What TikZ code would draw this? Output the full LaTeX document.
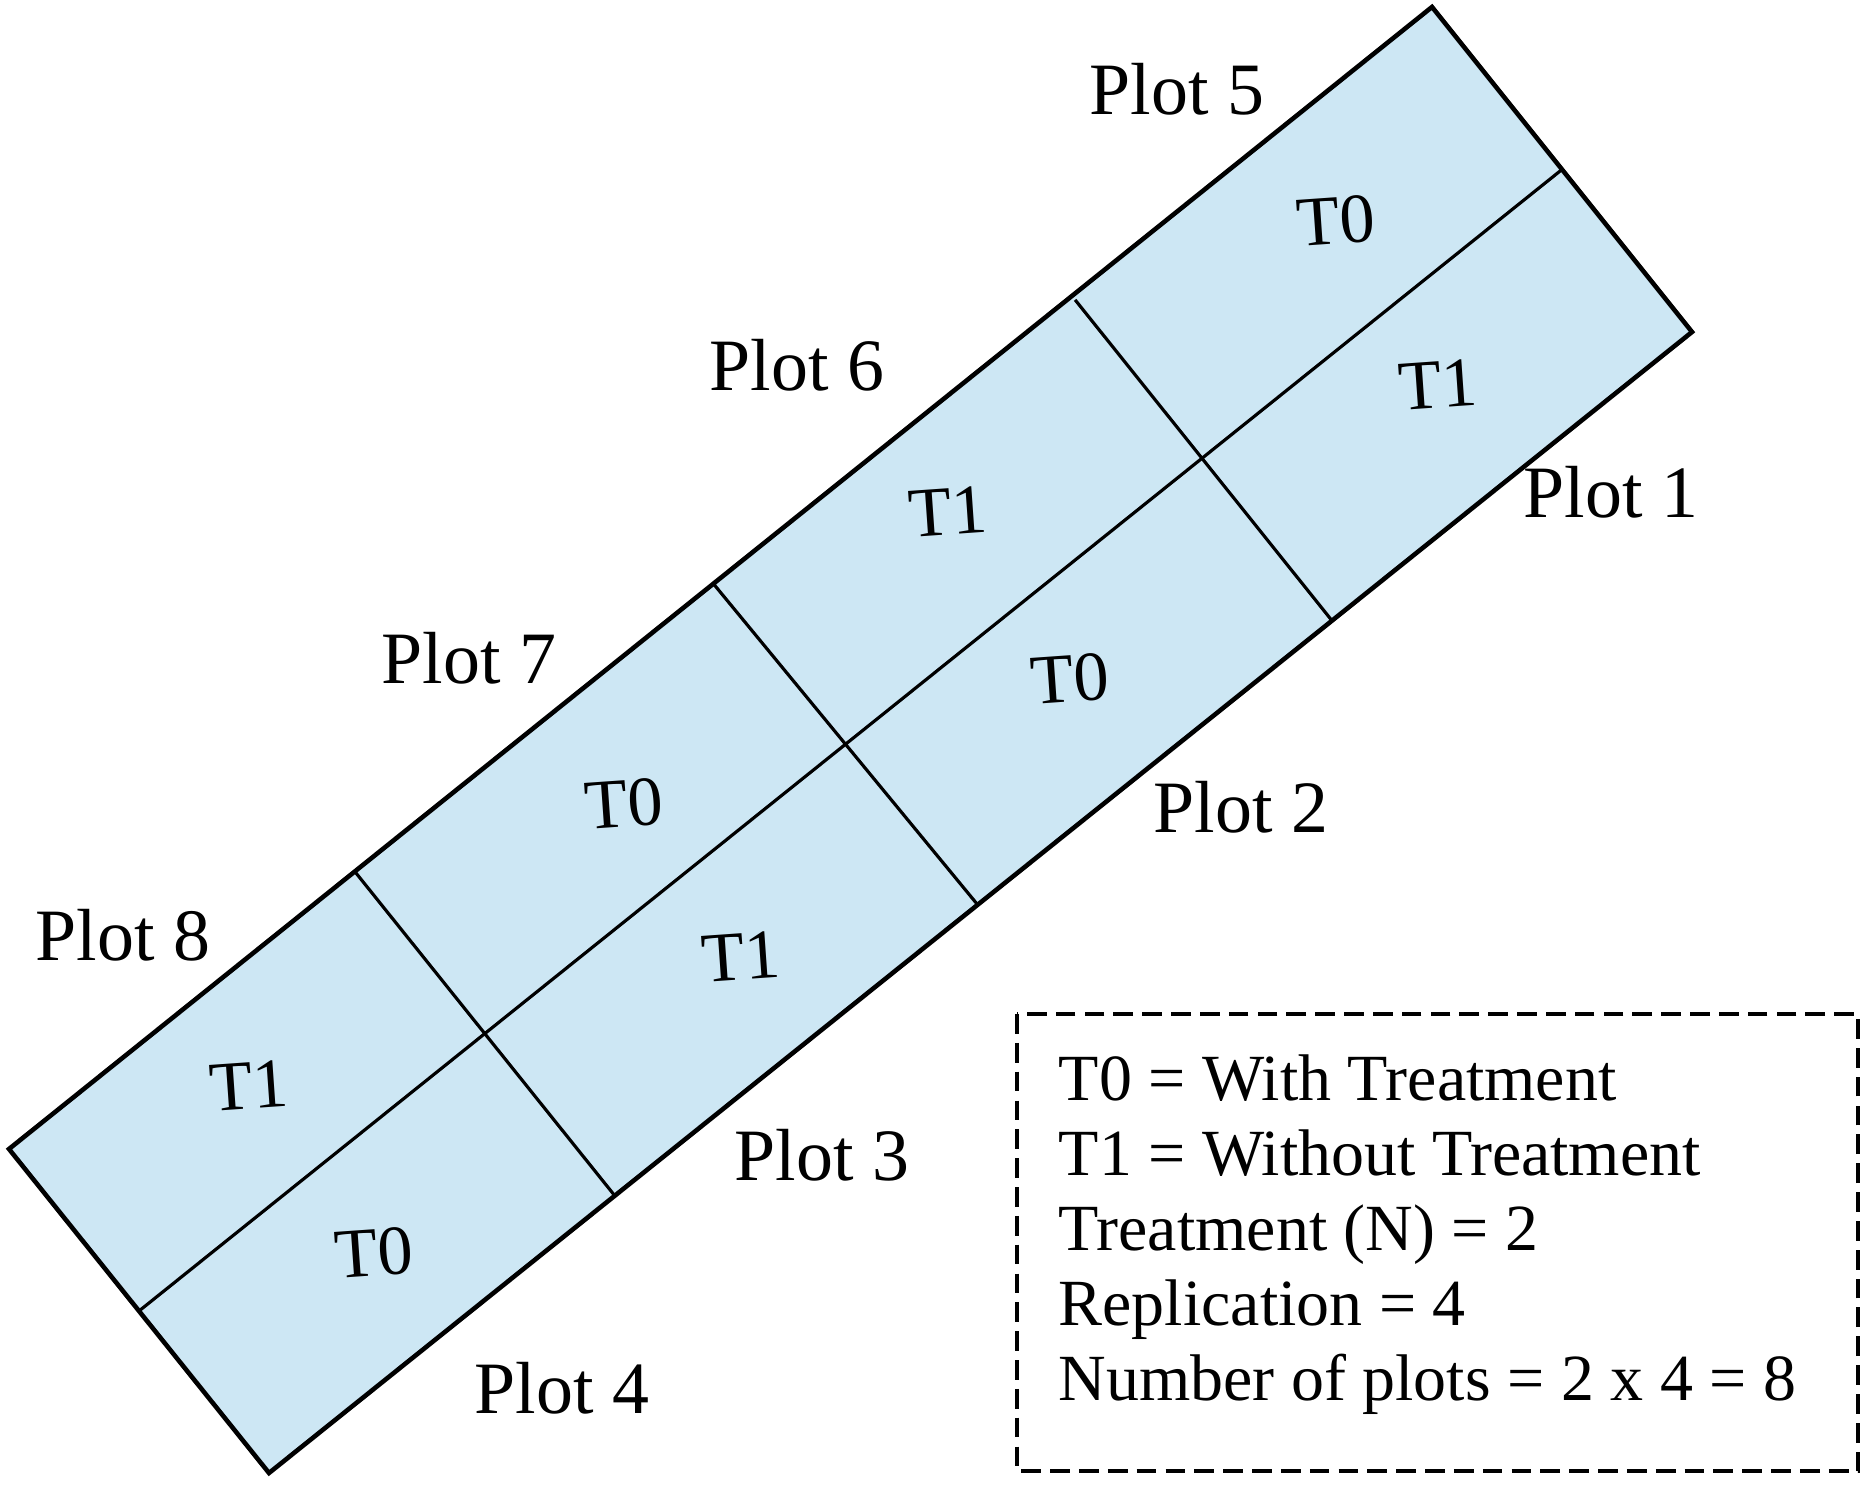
\documentclass[tikz,border=0pt]{standalone}
\usepackage{fontspec}
\setmainfont{Liberation Serif}
\usetikzlibrary{calc}
\begin{document}
\begin{tikzpicture}[x=0.01cm,y=-0.01cm,
  border/.style={line width=1.3pt, line join=miter},
  innerline/.style={line width=0.9pt},
  plotlabel/.style={anchor=base, inner sep=0pt, font=\fontsize{21}{24}\selectfont},
  treat/.style={anchor=center, inner sep=0pt, rotate=4, font=\fontsize{20}{24}\selectfont},
  legendline/.style={anchor=base west, inner sep=0pt, font=\fontsize{18.75}{22}\selectfont},
  legendbox/.style={line width=1pt, dash pattern=on 5.6pt off 2.6pt}]
\definecolor{plotfill}{RGB}{205,231,244}
\useasboundingbox (0,0) rectangle (1870,1486);
\fill[white] (0,0) rectangle (1870,1486);
% field corners
\coordinate (L) at (9,1149);
\coordinate (T) at (1432,7);
\coordinate (R) at (1692,332);
\coordinate (B) at (269,1473);
\fill[plotfill] (L) -- (T) -- (R) -- (B) -- cycle;
% middle line
\coordinate (m1) at ($(L)!0.5!(B)$);
\coordinate (m2) at ($(T)!0.5!(R)$);
\draw[innerline] (m1) -- (m2);
% cross lines
\coordinate (c1a) at ($(L)!0.747!(T)$);
\coordinate (c1b) at ($(B)!0.747!(R)$);
\coordinate (c1s) at ($(c1a)!0.012!(c1b)$);
\draw[innerline] (c1s) -- (c1b);
\coordinate (c2a) at ($(L)!0.495!(T)$);
\coordinate (c2b) at ($(B)!0.498!(R)$);
\draw[innerline] (c2a) -- (c2b);
\coordinate (c3a) at ($(L)!0.243!(T)$);
\coordinate (c3b) at ($(B)!0.243!(R)$);
\draw[innerline] (c3a) -- (c3b);
% outer border
\draw[border] (L) -- (T) -- (R) -- (B) -- cycle;
% treatment labels
\node[treat] (t5) at (1336,221) {T0};
\node[treat] (t1) at (1438,385) {T1};
\node[treat] (t6) at (948,512) {T1};
\node[treat] (t2) at (1070,679) {T0};
\node[treat] (t7) at (624,804) {T0};
\node[treat] (t3) at (741,957) {T1};
\node[treat] (t8) at (249,1086) {T1};
\node[treat] (t4) at (374,1253) {T0};
% plot labels
\node[plotlabel] (p5) at (1177,115) {Plot 5};
\node[plotlabel] (p6) at (797,391) {Plot 6};
\node[plotlabel] (p7) at (469,684) {Plot 7};
\node[plotlabel] (p8) at (123,960) {Plot 8};
\node[plotlabel] (p1) at (1611,518) {Plot 1};
\node[plotlabel] (p2) at (1241,833) {Plot 2};
\node[plotlabel] (p3) at (822,1180) {Plot 3};
\node[plotlabel] (p4) at (562,1413) {Plot 4};
% legend
\draw[legendbox] (1017,1014) rectangle (1858,1471);
\node[legendline] (l1) at (1058,1100) {T0 = With Treatment};
\node[legendline] (l2) at (1058,1175) {T1 = Without Treatment};
\node[legendline] (l3) at (1058,1250) {Treatment (N) = 2};
\node[legendline] (l4) at (1058,1325) {Replication = 4};
\node[legendline] (l5) at (1058,1400) {Number of plots = 2 x 4 = 8};
\end{tikzpicture}
\end{document}
